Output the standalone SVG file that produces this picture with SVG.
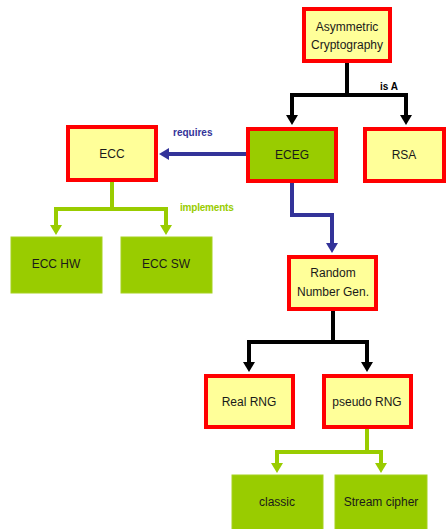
<svg xmlns="http://www.w3.org/2000/svg" width="446" height="529" viewBox="0 0 446 529">
<style>
.y{fill:#FFFF99;stroke:#FF0000;stroke-width:4}
.gr{fill:#99CC00;stroke:#FF0000;stroke-width:4}
.g{fill:#99CC00;stroke:#A6D21E;stroke-width:1}
.t{font-family:"Liberation Sans",Arial,sans-serif;font-size:12px;fill:#1a1a1a;text-anchor:middle}
.lb{font-family:"Liberation Sans",Arial,sans-serif;font-size:10px;font-weight:bold}
.k{fill:none;stroke:#000;stroke-width:4}
.b{fill:none;stroke:#333399;stroke-width:4}
.v{fill:none;stroke:#99CC00;stroke-width:4}
</style>
<defs>
<marker id="ak" markerUnits="userSpaceOnUse" viewBox="0 0 10 12" refX="0" refY="6" markerWidth="10" markerHeight="12" orient="auto"><path d="M0,0 L10,6 L0,12 z" fill="#000"/></marker>
<marker id="ab" markerUnits="userSpaceOnUse" viewBox="0 0 10 12" refX="0" refY="6" markerWidth="10" markerHeight="12" orient="auto"><path d="M0,0 L10,6 L0,12 z" fill="#333399"/></marker>
<marker id="av" markerUnits="userSpaceOnUse" viewBox="0 0 10 12" refX="0" refY="6" markerWidth="10" markerHeight="12" orient="auto"><path d="M0,0 L10,6 L0,12 z" fill="#99CC00"/></marker>
</defs>
<g id="connectors">
<path class="k" d="M347,63 V95 H292 V115" marker-end="url(#ak)"/>
<path class="k" d="M347,95 H406 V115" marker-end="url(#ak)"/>
<text class="lb" x="380" y="90" fill="#000">is A</text>
<path class="b" d="M246,154 H169" marker-end="url(#ab)"/>
<text class="lb" x="173" y="136" fill="#333399">requires</text>
<path class="b" d="M292,183 V215 H332 V243" marker-end="url(#ab)"/>
<path class="v" d="M112,182 V209 H56 V225" marker-end="url(#av)"/>
<path class="v" d="M112,209 H166 V225" marker-end="url(#av)"/>
<text class="lb" x="180" y="211" fill="#99CC00" letter-spacing="-0.2">implements</text>
<path class="k" d="M333,311 V342 H249 V362" marker-end="url(#ak)"/>
<path class="k" d="M333,342 H367 V362" marker-end="url(#ak)"/>
<path class="v" d="M367,429 V452 H277 V463" marker-end="url(#av)"/>
<path class="v" d="M367,452 H381 V463" marker-end="url(#av)"/>
</g>
<g id="asym"><rect class="y" x="304" y="9" width="86" height="52"/><text class="t" x="347" y="31">Asymmetric</text><text class="t" x="347" y="49">Cryptography</text></g>
<g id="eceg"><rect class="gr" x="248" y="129" width="88" height="52"/><text class="t" x="292" y="159">ECEG</text></g>
<g id="rsa"><rect class="y" x="365" y="129" width="79" height="52"/><text class="t" x="404" y="159">RSA</text></g>
<g id="ecc"><rect class="y" x="68" y="127" width="88" height="53"/><text class="t" x="112" y="158">ECC</text></g>
<g id="ecchw"><rect class="g" x="11" y="237" width="91" height="56"/><text class="t" x="56" y="268">ECC HW</text></g>
<g id="eccsw"><rect class="g" x="121" y="237" width="91" height="56"/><text class="t" x="166" y="268">ECC SW</text></g>
<g id="rng"><rect class="y" x="289" y="257" width="87" height="52"/><text class="t" x="333" y="277">Random</text><text class="t" x="333" y="296">Number Gen.</text></g>
<g id="realrng"><rect class="y" x="206" y="376" width="87" height="51"/><text class="t" x="249" y="406">Real RNG</text></g>
<g id="pseudorng"><rect class="y" x="324" y="376" width="87" height="51"/><text class="t" x="367" y="406">pseudo RNG</text></g>
<g id="classic"><rect class="g" x="232" y="475" width="91" height="56"/><text class="t" x="277" y="506">classic</text></g>
<g id="stream"><rect class="g" x="335" y="475" width="92" height="56"/><text class="t" x="381" y="506">Stream cipher</text></g>
</svg>
